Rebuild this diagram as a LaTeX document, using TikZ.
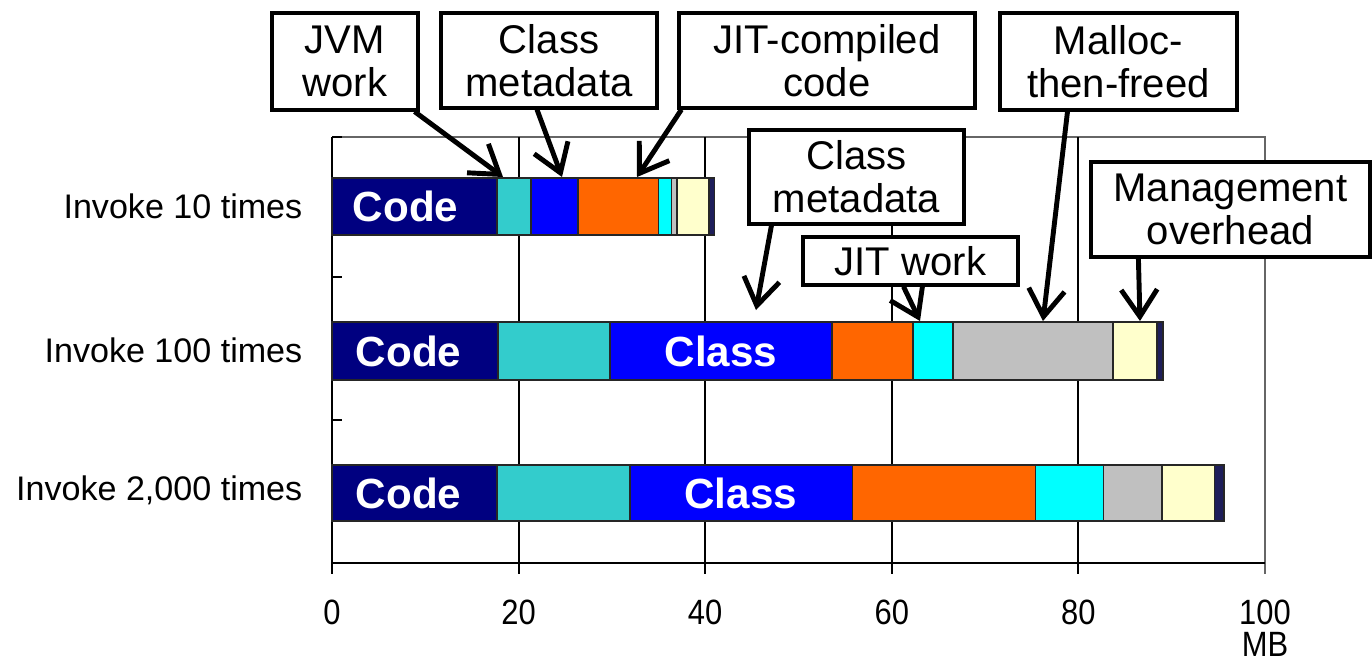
\documentclass[tikz,border=0pt]{standalone}
\usepackage{fontspec}
\setmainfont{Liberation Sans}
\newfontfamily\axisfont[FakeStretch=0.88]{Liberation Sans}
\usetikzlibrary{arrows.meta}
\definecolor{codeblue}{RGB}{0,0,128}
\definecolor{jvmteal}{RGB}{51,204,204}
\definecolor{classblue}{RGB}{0,0,255}
\definecolor{jitorange}{RGB}{255,102,0}
\definecolor{jitcyan}{RGB}{0,255,255}
\definecolor{mallocgray}{RGB}{192,192,192}
\definecolor{mgmtcream}{RGB}{255,255,204}
\definecolor{othernavy}{RGB}{30,30,90}
\begin{document}
\begin{tikzpicture}[x=0.1mm,y=-0.1mm,
  callout/.style={draw=black, line width=0.9pt, fill=white, align=center, inner sep=0pt, font=\fontsize{11.4}{12.2}\selectfont},
  seg/.style={draw=black!85, line width=0.5pt},
  barlabel/.style={text=white, inner sep=0pt, font=\fontsize{12}{14}\selectfont\bfseries},
  catlabel/.style={anchor=east, inner sep=0pt, font=\fontsize{9.7}{11}\selectfont},
  axislabel/.style={anchor=north, inner sep=0pt, align=center, font=\axisfont\fontsize{10}{9.1}\selectfont},
  pointer/.style={line width=1.4pt, -{Straight Barb[length=2.7mm,width=3.6mm]}}]
\useasboundingbox (0,0) rectangle (1372,659);
\begin{scope}[shift={(332,0)},x=0.933mm]
\draw[black!60, line width=0.5pt] (0,137) -- (100,137) -- (100,574);
\draw[line width=0.6pt] (20,137) -- (20,574);
\draw[line width=0.6pt] (40,137) -- (40,574);
\draw[line width=0.6pt] (60,137) -- (60,574);
\draw[line width=0.6pt] (80,137) -- (80,574);
\draw[line width=0.7pt] (0,137) -- (0,574);
\draw[line width=0.7pt] (0,137) -- (1.1,137);
\draw[line width=0.7pt] (0,277) -- (1.1,277);
\draw[line width=0.7pt] (0,420) -- (1.1,420);
\draw[line width=0.8pt] (0,563) -- (100,563);
\node[axislabel] (l0) at (0,599) {0};
\node[axislabel] (l20) at (20,599) {20};
\node[axislabel] (l40) at (40,599) {40};
\node[axislabel] (l60) at (60,599) {60};
\node[axislabel] (l80) at (80,599) {80};
\node[axislabel] (l100) at (100,599) {100\\MB};
\draw[seg, fill=codeblue] (0,178) rectangle (17.7,235);
\draw[seg, fill=jvmteal] (17.7,178) rectangle (21.3,235);
\draw[seg, fill=classblue] (21.3,178) rectangle (26.4,235);
\draw[seg, fill=jitorange] (26.4,178) rectangle (35.0,235);
\draw[seg, fill=jitcyan] (35.0,178) rectangle (36.4,235);
\draw[seg, fill=mallocgray] (36.4,178) rectangle (37.0,235);
\draw[seg, fill=mgmtcream] (37.0,178) rectangle (40.4,235);
\draw[seg, fill=othernavy] (40.4,178) rectangle (41.0,235);
\draw[seg, fill=codeblue] (0,322) rectangle (17.8,380);
\draw[seg, fill=jvmteal] (17.8,322) rectangle (29.8,380);
\draw[seg, fill=classblue] (29.8,322) rectangle (53.6,380);
\draw[seg, fill=jitorange] (53.6,322) rectangle (62.3,380);
\draw[seg, fill=jitcyan] (62.3,322) rectangle (66.6,380);
\draw[seg, fill=mallocgray] (66.6,322) rectangle (83.7,380);
\draw[seg, fill=mgmtcream] (83.7,322) rectangle (88.4,380);
\draw[seg, fill=othernavy] (88.4,322) rectangle (89.1,380);
\draw[seg, fill=codeblue] (0,465) rectangle (17.7,521);
\draw[seg, fill=jvmteal] (17.7,465) rectangle (31.9,521);
\draw[seg, fill=classblue] (31.9,465) rectangle (55.8,521);
\draw[seg, fill=jitorange] (55.8,465) rectangle (75.4,521);
\draw[seg, fill=jitcyan] (75.4,465) rectangle (82.7,521);
\draw[seg, fill=mallocgray] (82.7,465) rectangle (89.0,521);
\draw[seg, fill=mgmtcream] (89.0,465) rectangle (94.6,521);
\draw[seg, fill=othernavy] (94.6,465) rectangle (95.6,521);
\node[barlabel] (code10) at (7.9,206.5) {Code};
\node[barlabel] (code100) at (8.2,351) {Code};
\node[barlabel] (class100) at (41.7,351) {Class};
\node[barlabel] (code2000) at (8.2,493) {Code};
\node[barlabel] (class2000) at (43.8,493) {Class};
\end{scope}
\node[catlabel] (inv10) at (303,206) {Invoke 10 times};
\node[catlabel] (inv100) at (303,350) {Invoke 100 times};
\node[catlabel] (inv2000) at (303,490) {Invoke 2,000 times};
\node[callout, minimum width=1.46cm, minimum height=0.97cm] (jvm) at (345,61.5) {JVM\\work};
\node[callout, minimum width=2.16cm, minimum height=0.95cm] (meta1) at (549,60.5) {Class\\metadata};
\node[callout, minimum width=2.96cm, minimum height=0.95cm] (jitcode) at (827,60.5) {JIT-compiled\\code};
\node[callout, minimum width=2.37cm, minimum height=0.97cm] (malloc) at (1118.5,61.5) {Malloc-\\then-freed};
\node[callout, minimum width=2.15cm, minimum height=0.94cm] (meta2) at (856.5,177) {Class\\metadata};
\node[callout, minimum width=2.15cm, minimum height=0.48cm] (jitwork) at (910.5,261) {JIT work};
\node[callout, minimum width=2.79cm, minimum height=0.95cm] (mgmt) at (1230.5,209.5) {Management\\overhead};
\coordinate (tipjvm) at (503,177);
\coordinate (tipmeta1) at (562,177);
\coordinate (tipjitcode) at (637,177);
\coordinate (tipmalloc) at (1043,321);
\coordinate (tipmeta2) at (756,310);
\coordinate (tipjitwork) at (920,321);
\coordinate (tipmgmt) at (1140,321);
\draw[pointer] ([xshift=-0.5mm]jvm.south east) -- (tipjvm);
\draw[pointer] ([xshift=-1.2mm]meta1.south) -- (tipmeta1);
\draw[pointer] ([xshift=0.4mm]jitcode.south west) -- (tipjitcode);
\draw[pointer] ([xshift=-5.1mm]malloc.south) -- (tipmalloc);
\draw[pointer] ([xshift=2.4mm]meta2.south west) -- (tipmeta2);
\draw[pointer] ([xshift=-0.7mm]jitwork.south) -- (tipjitwork);
\draw[pointer] ([xshift=4.9mm]mgmt.south west) -- (tipmgmt);
\end{tikzpicture}
\end{document}
